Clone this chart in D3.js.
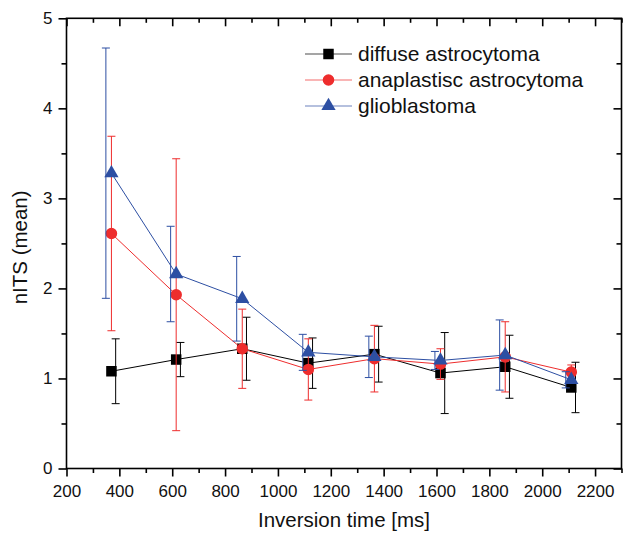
<!DOCTYPE html>
<html lang="en">
<head>
    <meta charset="UTF-8">
    <title>nITS vs inversion time</title>
    <script src="https://d3js.org/d3.v7.min.js"></script>
    <style>
        body {
            margin: 0;
            background: white;
            font-family: "Liberation Sans", Arial, sans-serif;
        }

        .tick-label {
            font-size: 17px;
            fill: #111;
        }

        .axis-title {
            font-size: 20.5px;
            fill: #111;
        }

        .legend-text {
            font-size: 21px;
            fill: #111;
        }
    </style>
</head>
<body>
    <div id="chart"></div>

    <script>
        // Data
        const inversionTime = [370, 615, 865, 1115, 1365, 1615, 1860, 2110];

        const seriesNames = ['diffuse astrocytoma', 'anaplastisc astrocytoma', 'glioblastoma'];

        const diffuseMean = [1.08, 1.21, 1.33, 1.17, 1.27, 1.06, 1.13, 0.90];
        const diffuseSd = [0.36, 0.19, 0.35, 0.28, 0.31, 0.45, 0.35, 0.28];

        const anaplasticMean = [2.61, 1.93, 1.33, 1.10, 1.22, 1.16, 1.24, 1.07];
        const anaplasticSd = [1.08, 1.51, 0.44, 0.34, 0.37, 0.17, 0.39, 0.08];

        const glioMean = [3.28, 2.16, 1.885, 1.29, 1.24, 1.20, 1.26, 0.985];
        const glioSd = [1.39, 0.53, 0.47, 0.20, 0.23, 0.10, 0.39, 0.09];

        // error bars are drawn slightly beside the markers in the original (ms)
        const errShift = [16, 0, -21];

        const xMajor = [200, 400, 600, 800, 1000, 1200, 1400, 1600, 1800, 2000, 2200];
        const xMinor = [300, 500, 700, 900, 1100, 1300, 1500, 1700, 1900, 2100, 2300];
        const yMajor = [0, 1, 2, 3, 4, 5];
        const yMinor = [0.5, 1.5, 2.5, 3.5, 4.5];

        const colors = ['#000000', '#ee2d2d', '#2d4fa3'];
        const symbols = [d3.symbolSquare, d3.symbolCircle, d3.symbolTriangle];
        const symbolSizes = [110, 105, 88];

        const width = 623;
        const height = 533;
        const margin = {top: 18.3, right: 1.5, bottom: 64.5, left: 66.5};

        const svg = d3.select('#chart')
            .append('svg')
            .attr('width', width)
            .attr('height', height);

        const x = d3.scaleLinear()
            .domain([200, 2300])
            .range([margin.left, width - margin.right]);

        const y = d3.scaleLinear()
            .domain([0, 5])
            .range([height - margin.bottom, margin.top]);

        const series = [
            {name: seriesNames[0], mean: diffuseMean, sd: diffuseSd},
            {name: seriesNames[1], mean: anaplasticMean, sd: anaplasticSd},
            {name: seriesNames[2], mean: glioMean, sd: glioSd}
        ].map((s, i) => ({
            ...s,
            color: colors[i],
            symbol: symbols[i],
            size: symbolSizes[i],
            shift: errShift[i],
            points: inversionTime.map((t, j) => ({t, m: s.mean[j], sd: s.sd[j]}))
        }));

        // Axes: bottom/left outward with labels, top/right inward without
        function styleAxis(g) {
            g.select('.domain').remove();
            g.selectAll('.tick line').attr('stroke', '#000').attr('stroke-width', 1.6);
            g.selectAll('.tick text').attr('class', 'tick-label');
        }

        const yBottom = height - margin.bottom;
        const xRight = width - margin.right;

        svg.append('g')
            .attr('transform', `translate(0,${yBottom})`)
            .call(d3.axisBottom(x).tickValues(xMajor).tickSize(8).tickPadding(8).tickFormat(d3.format('d')))
            .call(styleAxis);
        svg.append('g')
            .attr('transform', `translate(0,${yBottom})`)
            .call(d3.axisBottom(x).tickValues(xMinor).tickSize(4.5).tickFormat(''))
            .call(styleAxis);

        svg.append('g')
            .attr('transform', `translate(0,${margin.top})`)
            .call(d3.axisBottom(x).tickValues(xMajor).tickSize(8).tickFormat(''))
            .call(styleAxis);
        svg.append('g')
            .attr('transform', `translate(0,${margin.top})`)
            .call(d3.axisBottom(x).tickValues(xMinor).tickSize(4.5).tickFormat(''))
            .call(styleAxis);

        svg.append('g')
            .attr('transform', `translate(${margin.left},0)`)
            .call(d3.axisLeft(y).tickValues(yMajor).tickSize(8).tickPadding(6).tickFormat(d3.format('d')))
            .call(styleAxis);
        svg.append('g')
            .attr('transform', `translate(${margin.left},0)`)
            .call(d3.axisLeft(y).tickValues(yMinor).tickSize(5).tickFormat(''))
            .call(styleAxis);

        svg.append('g')
            .attr('transform', `translate(${xRight},0)`)
            .call(d3.axisLeft(y).tickValues(yMajor).tickSize(8).tickFormat(''))
            .call(styleAxis);
        svg.append('g')
            .attr('transform', `translate(${xRight},0)`)
            .call(d3.axisLeft(y).tickValues(yMinor).tickSize(5).tickFormat(''))
            .call(styleAxis);

        // frame
        svg.append('rect')
            .attr('x', margin.left)
            .attr('y', margin.top)
            .attr('width', xRight - margin.left)
            .attr('height', yBottom - margin.top)
            .attr('fill', 'none')
            .attr('stroke', '#000')
            .attr('stroke-width', 1.6);

        // axis titles
        svg.append('text')
            .attr('class', 'axis-title')
            .attr('x', (margin.left + xRight) / 2)
            .attr('y', 527)
            .attr('text-anchor', 'middle')
            .text('Inversion time [ms]');

        svg.append('text')
            .attr('class', 'axis-title')
            .attr('transform', `translate(27,${(margin.top + yBottom) / 2 + 4}) rotate(-90)`)
            .attr('text-anchor', 'middle')
            .text('nITS (mean)');

        // series
        const line = d3.line()
            .x(d => x(d.t))
            .y(d => y(d.m));

        const capW = 4;

        series.forEach(s => {
            const g = svg.append('g');

            // error bars
            const eb = g.selectAll('.err')
                .data(s.points)
                .join('g')
                .attr('stroke', s.color)
                .attr('stroke-width', 1);
            eb.append('line')
                .attr('x1', d => x(d.t + s.shift))
                .attr('x2', d => x(d.t + s.shift))
                .attr('y1', d => y(d.m - d.sd))
                .attr('y2', d => y(d.m + d.sd));
            eb.append('line')
                .attr('x1', d => x(d.t + s.shift) - capW)
                .attr('x2', d => x(d.t + s.shift) + capW)
                .attr('y1', d => y(d.m + d.sd))
                .attr('y2', d => y(d.m + d.sd));
            eb.append('line')
                .attr('x1', d => x(d.t + s.shift) - capW)
                .attr('x2', d => x(d.t + s.shift) + capW)
                .attr('y1', d => y(d.m - d.sd))
                .attr('y2', d => y(d.m - d.sd));

            g.append('path')
                .datum(s.points)
                .attr('fill', 'none')
                .attr('stroke', s.color)
                .attr('stroke-width', 1)
                .attr('d', line);

            g.selectAll('.marker')
                .data(s.points)
                .join('path')
                .attr('transform', d => `translate(${x(d.t)},${y(d.m)})`)
                .attr('d', d3.symbol().type(s.symbol).size(s.size))
                .attr('fill', s.color);
        });

        // legend
        const legend = svg.append('g');
        const legendRows = legend.selectAll('g')
            .data(series)
            .join('g')
            .attr('transform', (d, i) => `translate(305,${54 + i * 26})`);

        legendRows.append('line')
            .attr('x1', 0)
            .attr('x2', 47)
            .attr('stroke', d => d.color)
            .attr('stroke-opacity', 0.7)
            .attr('stroke-width', 1.2);
        legendRows.append('path')
            .attr('transform', 'translate(23.5,0)')
            .attr('d', d => d3.symbol().type(d.symbol).size(d.size)())
            .attr('fill', d => d.color);
        legendRows.append('text')
            .attr('class', 'legend-text')
            .attr('x', 53)
            .attr('dy', '0.35em')
            .text(d => d.name);
    </script>
</body>
</html>
